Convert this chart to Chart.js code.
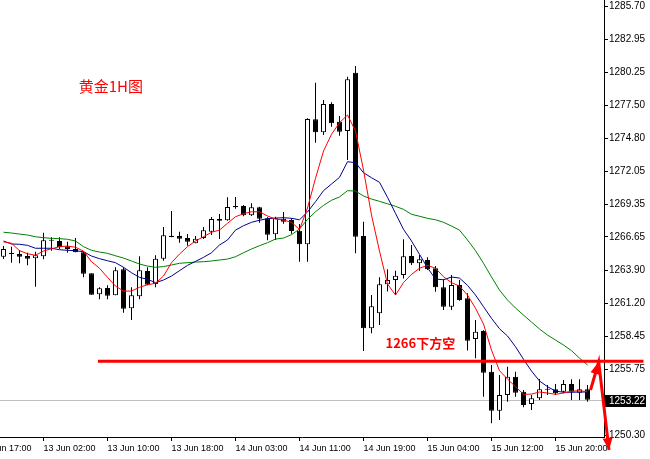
<!DOCTYPE html>
<html>
<head>
<meta charset="utf-8">
<script src="https://cdn.jsdelivr.net/npm/chart.js@4"></script>
<style>
  html, body { margin: 0; padding: 0; background: #fff; }
  canvas { display: block; }
</style>
</head>
<body>
<canvas id="chart" width="650" height="459"></canvas>
<script>
// XAUUSD H1, one entry per bar (bar index 0 = 12 Jun 20:00)
const opens = [1265.02, 1265.24, 1265.24, 1265.08, 1264.89, 1265.06, 1266.34, 1266.32, 1265.88, 1265.66,
    1265.39, 1263.65, 1261.92, 1262.44, 1261.84, 1263.98, 1260.77, 1261.76, 1263.84, 1262.77,
    1264.86, 1266.65, 1266.73, 1266.56, 1266.13, 1266.56, 1267.08, 1268.13, 1268.03, 1269.20,
    1269.20, 1268.44, 1269.10, 1268.19, 1266.87, 1268.16, 1268.05, 1267.17, 1266.05, 1276.36,
    1275.29, 1277.62, 1276.16, 1275.39, 1280.20, 1266.73, 1259.12, 1260.35, 1262.75, 1263.10,
    1263.51, 1265.08, 1264.48, 1264.75, 1264.07, 1262.50, 1260.90, 1262.69, 1261.59, 1258.23,
    1258.89, 1255.53, 1252.32, 1253.61, 1255.12, 1253.88, 1252.87, 1253.34, 1254.05, 1254.08,
    1253.88, 1254.52, 1253.80, 1254.08];
const highs = [1265.90, 1265.85, 1265.57, 1265.35, 1265.43, 1267.00, 1266.62, 1266.62, 1266.26, 1266.56,
    1265.45, 1263.65, 1262.50, 1262.66, 1264.15, 1264.15, 1262.50, 1265.06, 1264.15, 1265.14,
    1267.47, 1268.79, 1267.08, 1266.89, 1266.73, 1267.47, 1268.30, 1268.54, 1269.92, 1269.95,
    1269.29, 1269.43, 1269.15, 1268.27, 1268.32, 1268.71, 1268.19, 1267.72, 1276.44, 1279.38,
    1277.95, 1277.76, 1276.63, 1279.87, 1280.75, 1267.91, 1261.86, 1263.32, 1263.98, 1263.87,
    1266.46, 1265.99, 1265.16, 1264.97, 1264.25, 1263.16, 1263.51, 1263.10, 1262.00, 1259.80,
    1258.95, 1256.09, 1255.26, 1255.95, 1255.53, 1254.02, 1253.61, 1254.93, 1254.44, 1254.52,
    1254.85, 1254.91, 1254.91, 1254.44];
const lows = [1264.83, 1264.53, 1264.48, 1264.31, 1262.55, 1264.81, 1265.52, 1265.66, 1265.35, 1265.39,
    1263.32, 1261.86, 1261.51, 1261.51, 1261.84, 1260.40, 1259.80, 1261.51, 1262.66, 1262.50,
    1264.69, 1266.62, 1266.18, 1265.93, 1266.13, 1266.48, 1266.81, 1266.48, 1267.99, 1268.98,
    1268.36, 1268.38, 1267.83, 1266.38, 1266.40, 1267.74, 1266.92, 1264.61, 1264.61, 1274.43,
    1275.06, 1275.75, 1275.00, 1273.00, 1265.30, 1257.24, 1258.70, 1259.39, 1262.15, 1261.86,
    1263.22, 1264.34, 1263.87, 1263.92, 1262.13, 1260.62, 1260.62, 1261.39, 1257.28, 1256.64,
    1253.47, 1251.28, 1251.55, 1253.06, 1253.47, 1252.60, 1252.37, 1253.20, 1253.61, 1253.61,
    1253.75, 1253.20, 1253.20, 1253.06];
const closes = [1265.66, 1265.29, 1265.02, 1264.86, 1265.14, 1266.38, 1266.38, 1265.80, 1265.66, 1265.39,
    1263.62, 1261.89, 1262.42, 1261.80, 1263.90, 1260.73, 1261.84, 1263.90, 1262.71, 1264.86,
    1266.79, 1266.75, 1266.51, 1266.26, 1266.51, 1267.20, 1268.13, 1267.99, 1269.12, 1269.10,
    1268.44, 1269.10, 1268.16, 1266.84, 1268.19, 1267.91, 1267.14, 1266.05, 1276.38, 1275.29,
    1277.62, 1276.03, 1275.33, 1279.66, 1266.67, 1259.12, 1260.93, 1262.75, 1263.10, 1263.45,
    1265.06, 1264.48, 1264.81, 1263.98, 1262.50, 1260.90, 1262.69, 1261.45, 1258.09, 1258.84,
    1255.45, 1252.32, 1253.61, 1255.12, 1253.80, 1252.79, 1253.34, 1254.08, 1254.08, 1253.75,
    1254.52, 1253.88, 1254.08, 1253.22];

// moving averages
const maRed = [1266.25, 1266.13, 1265.52, 1265.27, 1265.14, 1265.49, 1265.68, 1265.85, 1265.90, 1265.80,
    1265.49, 1264.61, 1264.07, 1263.32, 1262.60, 1262.19, 1262.19, 1262.50, 1262.71, 1262.83,
    1263.43, 1264.53, 1265.24, 1265.85, 1266.32, 1266.67, 1267.04, 1267.22, 1267.78, 1268.32,
    1268.57, 1268.73, 1268.73, 1268.38, 1268.13, 1268.05, 1267.86, 1267.27, 1269.04, 1271.49,
    1273.74, 1275.12, 1276.08, 1276.71, 1275.39, 1272.17, 1268.46, 1265.49, 1262.77, 1261.86,
    1262.89, 1263.57, 1264.07, 1264.31, 1264.07, 1263.37, 1262.88, 1262.60, 1261.86, 1260.77,
    1259.47, 1257.32, 1255.62, 1254.93, 1254.30, 1253.67, 1253.69, 1253.86, 1253.78, 1253.67,
    1253.78, 1253.92, 1253.97, 1253.88];
const maBlue = [1266.32, 1266.07, 1266.05, 1265.96, 1265.72, 1265.72, 1265.72, 1265.60, 1265.55, 1265.52,
    1265.43, 1265.08, 1264.86, 1264.69, 1264.53, 1264.15, 1263.70, 1263.32, 1263.16, 1262.88,
    1263.10, 1263.43, 1263.87, 1264.31, 1264.64, 1264.97, 1265.35, 1265.99, 1266.40, 1267.22,
    1267.58, 1267.86, 1268.03, 1268.16, 1268.21, 1268.24, 1268.19, 1268.07, 1268.71, 1269.56,
    1270.47, 1271.02, 1271.57, 1272.86, 1272.78, 1271.95, 1271.54, 1271.16, 1269.92, 1268.60,
    1267.28, 1266.32, 1265.22, 1264.11, 1263.18, 1263.12, 1263.35, 1263.26, 1262.66, 1261.86,
    1260.90, 1259.94, 1259.08, 1258.48, 1257.60, 1256.56, 1255.59, 1254.77, 1254.30, 1253.94,
    1253.84, 1253.84, 1253.86, 1253.86];
const maGreen = [1267.04, 1266.98, 1266.89, 1266.81, 1266.67, 1266.59, 1266.54, 1266.51, 1266.46, 1266.32,
    1265.85, 1265.55, 1265.41, 1265.30, 1265.10, 1264.91, 1264.67, 1264.42, 1264.25, 1264.15,
    1264.21, 1264.34, 1264.48, 1264.53, 1264.58, 1264.61, 1264.67, 1264.75, 1264.83, 1265.02,
    1265.35, 1265.66, 1265.93, 1266.18, 1266.48, 1266.56, 1266.84, 1267.31, 1268.11, 1268.73,
    1269.26, 1269.68, 1269.95, 1270.47, 1270.44, 1270.03, 1269.78, 1269.59, 1269.39, 1269.18,
    1268.93, 1268.52, 1268.36, 1268.19, 1268.07, 1267.86, 1267.55, 1267.22, 1266.40, 1265.52,
    1264.48, 1263.35, 1262.27, 1261.45, 1260.79, 1260.21, 1259.63, 1259.06, 1258.56, 1258.15,
    1257.74, 1257.27, 1256.66, 1256.09];

const xTickIdx = [-3, 5, 13, 21, 29, 37, 45, 53, 61, 69];
const xTickLabels = ['12 Jun 17:00', '13 Jun 02:00', '13 Jun 10:00', '13 Jun 18:00', '14 Jun 03:00',
    '14 Jun 11:00', '14 Jun 19:00', '15 Jun 04:00', '15 Jun 12:00', '15 Jun 20:00'];
const yTickValues = [1285.70, 1282.95, 1280.25, 1277.50, 1274.80, 1272.05, 1269.35, 1266.65,
    1263.90, 1261.20, 1258.45, 1255.75, 1250.30];

// hand drawn marks: level line and arrow (bar index, price)
const levelX = [11.8, 80];
const levelY = [1256.40, 1256.40];
const arrowX = [73.38, 74.40, 75.69];
const arrowY = [1254.03, 1256.33, 1249.08];
const notes = [
    {text: '黄金1H图', x: 9.4, y: 1279.10, font: '15px "Noto Sans CJK SC"'},
    {text: '1266下方空', x: 47.75, y: 1257.90, font: 'bold 13px "Noto Sans CJK SC"'}
];

const lastPrice = closes[closes.length - 1];
const idx = closes.map((c, i) => i);
const bull = closes.map((c, i) => c >= opens[i]);

function pts(xs, ys) {
    return xs.map((x, i) => ({x: x, y: ys[i]}));
}

const overlay = {
    id: 'overlay',
    beforeDatasetsDraw(chart) {
        const {ctx, chartArea: a, scales: {y}} = chart;
        const py = Math.round(y.getPixelForValue(lastPrice));
        ctx.save();
        ctx.strokeStyle = '#c0c0c0';
        ctx.lineWidth = 1;
        ctx.beginPath();
        ctx.moveTo(a.left, py + 0.5);
        ctx.lineTo(a.right, py + 0.5);
        ctx.stroke();
        // current price box on the axis
        ctx.fillStyle = '#000';
        ctx.fillRect(a.right + 1, py - 5, 41, 12);
        ctx.fillStyle = '#fff';
        ctx.font = '10px "Liberation Sans"';
        ctx.textBaseline = 'middle';
        ctx.textAlign = 'left';
        ctx.fillText(lastPrice.toFixed(2), a.right + 5, py + 1);
        ctx.restore();
    },
    afterDatasetsDraw(chart) {
        const {ctx, scales: {x, y}} = chart;
        const meta = chart.getDatasetMeta(5);
        ctx.save();
        ctx.fillStyle = '#ff0000';
        for (let k = 1; k < meta.data.length; k++) {
            const p0 = meta.data[k - 1], p1 = meta.data[k];
            const dx = p1.x - p0.x, dy = p1.y - p0.y;
            const len = Math.hypot(dx, dy);
            const ux = dx / len, uy = dy / len;
            const bx = p1.x - ux * 12, by = p1.y - uy * 12;
            ctx.beginPath();
            ctx.moveTo(p1.x, p1.y);
            ctx.lineTo(bx - uy * 5, by + ux * 5);
            ctx.lineTo(bx + uy * 5, by - ux * 5);
            ctx.closePath();
            ctx.fill();
        }
        ctx.textBaseline = 'middle';
        ctx.textAlign = 'left';
        notes.forEach(n => {
            ctx.font = n.font;
            ctx.fillText(n.text, x.getPixelForValue(n.x), y.getPixelForValue(n.y));
        });
        ctx.restore();
    }
};

new Chart(document.getElementById('chart'), {
    type: 'bar',
    data: {
        datasets: [
            {
                type: 'line', label: 'MA fast', data: pts(idx, maRed),
                borderColor: '#ff0000', borderWidth: 1, pointRadius: 0, order: 1
            },
            {
                type: 'line', label: 'MA mid', data: pts(idx, maBlue),
                borderColor: '#00008b', borderWidth: 1, pointRadius: 0, order: 1
            },
            {
                type: 'line', label: 'MA slow', data: pts(idx, maGreen),
                borderColor: '#008000', borderWidth: 1, pointRadius: 0, order: 1
            },
            {
                label: 'body', data: idx.map(i => ({x: i, y: [opens[i], closes[i]]})),
                backgroundColor: bull.map(b => b ? '#ffffff' : '#000000'),
                borderColor: '#000', borderWidth: 1, borderSkipped: false,
                barThickness: 5, minBarLength: 1, grouped: false, inflateAmount: 0, order: 2
            },
            {
                type: 'line', label: 'level', data: pts(levelX, levelY),
                borderColor: '#ff0000', borderWidth: 3, pointRadius: 0, clip: false, order: 0
            },
            {
                type: 'line', label: 'arrow', data: pts(arrowX, arrowY),
                borderColor: '#ff0000', borderWidth: 3, pointRadius: 0, clip: false, order: 0
            },
            {
                label: 'wick', data: idx.map(i => ({x: i, y: [lows[i], highs[i]]})),
                backgroundColor: '#000', borderWidth: 0,
                barThickness: 1, grouped: false, inflateAmount: 0, order: 3
            }
        ]
    },
    options: {
        responsive: false,
        animation: false,
        devicePixelRatio: 1,
        layout: {padding: 0},
        plugins: {legend: {display: false}, tooltip: {enabled: false}},
        scales: {
            x: {
                type: 'linear', min: -0.4375, max: 75.0625, offset: false, bounds: 'data',
                grid: {drawOnChartArea: false, offset: false, tickLength: 4, color: '#000'},
                border: {display: true, color: '#000'},
                ticks: {
                    autoSkip: false, maxRotation: 0, align: 'start', padding: 2,
                    color: '#000', font: {family: 'Liberation Sans', size: 9},
                    callback: v => xTickLabels[xTickIdx.indexOf(v)]
                },
                afterBuildTicks: s => { s.ticks = xTickIdx.map(v => ({value: v})); },
                afterFit: s => { s.height = 22; s.paddingLeft = 0; s.paddingRight = 0; }
            },
            y: {
                type: 'linear', position: 'right', min: 1250.15, max: 1286.20, bounds: 'data',
                beginAtZero: false,
                grid: {drawOnChartArea: false, tickLength: 4, color: '#000'},
                border: {display: true, color: '#000'},
                ticks: {
                    padding: 1, color: '#000', font: {family: 'Liberation Sans', size: 10},
                    callback: v => v.toFixed(2)
                },
                afterBuildTicks: s => { s.ticks = yTickValues.map(v => ({value: v})); },
                afterFit: s => { s.width = 46; s.paddingTop = 0; s.paddingBottom = 0; }
            }
        }
    },
    plugins: [overlay]
});
</script>
</body>
</html>
